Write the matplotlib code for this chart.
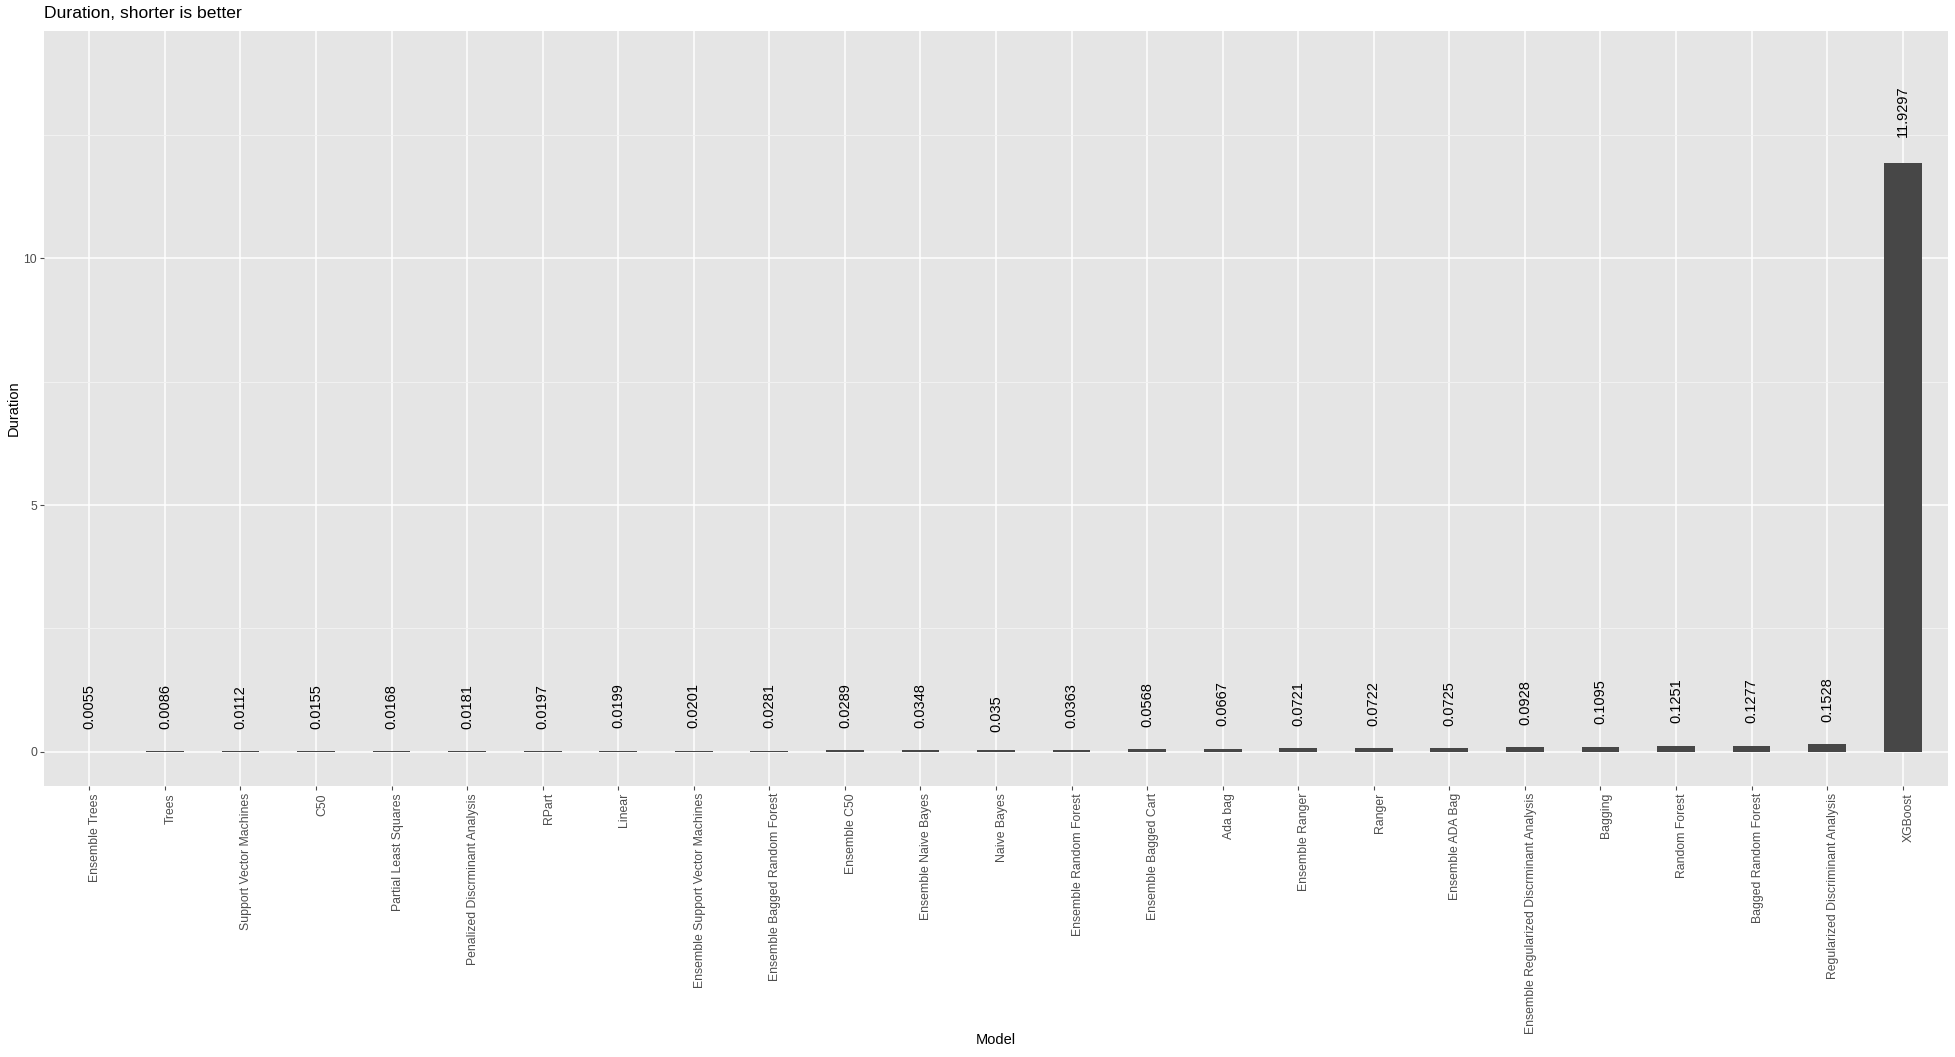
import numpy as np
import matplotlib.pyplot as plt
from matplotlib.transforms import ScaledTranslation

# Modele și durate (ordonate crescător)
models = [
    "Ensemble Trees", "Trees", "Support Vector Machines", "C50",
    "Partial Least Squares", "Penalized Discrminant Analysis", "RPart", "Linear",
    "Ensemble Support Vector Machines", "Ensemble Bagged Random Forest",
    "Ensemble C50", "Ensemble Naive Bayes", "Naive Bayes", "Ensemble Random Forest",
    "Ensemble Bagged Cart", "Ada bag", "Ensemble Ranger", "Ranger", "Ensemble ADA Bag",
    "Ensemble Regularized Discrminant Analysis", "Bagging", "Random Forest",
    "Bagged Random Forest", "Regularized Discriminant Analysis", "XGBoost",
]
durations = [
    0.0055, 0.0086, 0.0112, 0.0155, 0.0168, 0.0181, 0.0197, 0.0199, 0.0201,
    0.0281, 0.0289, 0.0348, 0.035, 0.0363, 0.0568, 0.0667, 0.0721, 0.0722,
    0.0725, 0.0928, 0.1095, 0.1251, 0.1277, 0.1528, 11.9297,
]
value_labels = [
    "0.0055", "0.0086", "0.0112", "0.0155", "0.0168", "0.0181", "0.0197", "0.0199",
    "0.0201", "0.0281", "0.0289", "0.0348", "0.035", "0.0363", "0.0568", "0.0667",
    "0.0721", "0.0722", "0.0725", "0.0928", "0.1095", "0.1251", "0.1277", "0.1528",
    "11.9297",
]

plt.rcParams['font.family'] = ['Liberation Sans', 'DejaVu Sans']

fig = plt.figure(figsize=(19.56, 10.57), dpi=100)
ax = fig.add_axes([0.0225, 0.2564, 0.9734, 0.7143])
ax.set_facecolor('#E5E5E5')
for s in ax.spines.values():
    s.set_visible(False)

x = np.arange(len(models))
ax.bar(x, durations, width=0.5, color='#474747', zorder=3)

ax.set_xlim(-0.6, len(models) - 0.4)
ax.set_ylim(-0.69, 14.6)

ax.set_yticks([0, 5, 10])
ax.set_yticks([2.5, 7.5, 12.5], minor=True)
ax.set_xticks(x)
ax.set_xticklabels(models, rotation=90, ha='left', va='top')

ax.grid(which='major', color='white', linewidth=1.1, zorder=0)
ax.grid(which='minor', axis='y', color='#F2F2F2', linewidth=0.7, zorder=0)
ax.set_axisbelow(True)
ax.tick_params(axis='both', which='major', length=2.6, width=0.8, color='#4D4D4D',
               labelcolor='#4D4D4D', labelsize=8.8, pad=2.5)
ax.tick_params(axis='both', which='minor', length=0)

ax.set_xlabel('Model', fontsize=10.5, va='center')
ax.xaxis.set_label_coords(0.5, -0.3365)
ax.set_ylabel('Duration', fontsize=10.5, labelpad=2)
fig.text(0.0225, 0.9943, 'Duration, shorter is better', fontsize=12.6, va='top', ha='left')

texts = []
for xi, v, lab in zip(x, durations, value_labels):
    t = ax.text(xi, v, lab, rotation=90, ha='center', va='bottom', fontsize=10.5, zorder=4)
    texts.append(t)

# hjust = -0.5: textul începe la jumătate din lungimea lui deasupra barei
fig.canvas.draw()
r = fig.canvas.get_renderer()
for t in texts:
    h = t.get_window_extent(renderer=r).height
    t.set_transform(ax.transData + ScaledTranslation(0, 0.5 * h / fig.dpi, fig.dpi_scale_trans))

fig.savefig('out.png', dpi=100)
